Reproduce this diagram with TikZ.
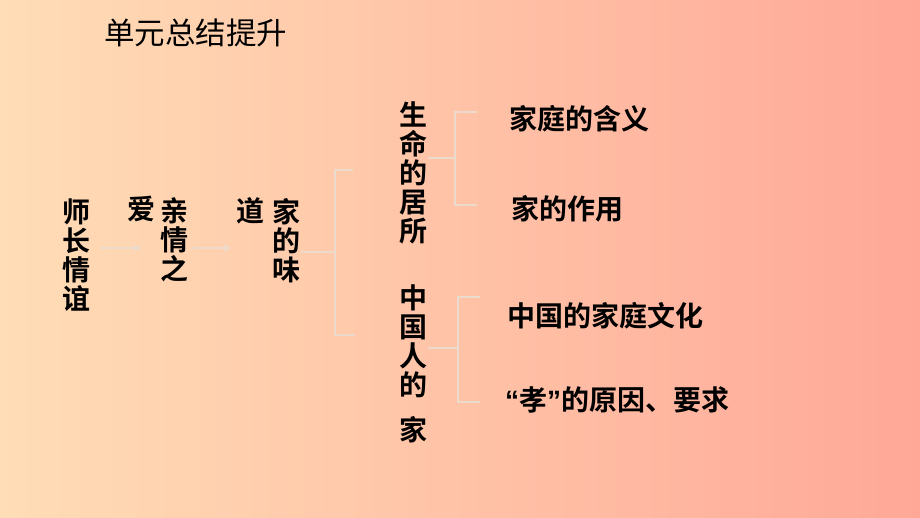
\documentclass[tikz,border=0pt]{standalone}
\usepackage{fontspec}
\newfontfamily\cjk{Noto Sans CJK SC}
\newfontfamily\cjkb{Noto Sans CJK SC Bold}
\newfontfamily\latb{Liberation Sans Bold}
\usetikzlibrary{arrows.meta}
\definecolor{bgL}{RGB}{255,221,182}
\definecolor{bgR}{RGB}{255,168,152}
\definecolor{lineC}{RGB}{236,218,204}
\tikzset{
  vtext/.style={font=\cjkb\fontsize{28}{29}\selectfont, align=center, inner sep=1pt, text=black},
  htext/.style={font=\cjkb\fontsize{28}{29}\selectfont, anchor=west, inner sep=0pt, text=black},
  conn/.style={draw=lineC, line width=1.3pt},
  arr/.style={conn, -{Stealth[length=7pt,width=7pt]}},
}
\begin{document}
\begin{tikzpicture}[x=1pt,y=-1pt]
\shade[left color=bgL, right color=bgR] (0,0) rectangle (920,518);
\useasboundingbox (0,0) rectangle (920,518);
\node[font=\cjk\fontsize{30.5}{33}\selectfont, anchor=west, inner sep=0pt] (title) at (104,33) {单元总结提升};
\node[vtext] (a) at (76,255) {师\\长\\情\\谊};
\node[vtext] (b1) at (141,209) {爱};
\node[vtext] (b) at (174,240) {亲\\情\\之};
\node[vtext] (c1) at (250,211) {道};
\node[vtext] (c) at (286,241) {家\\的\\味};
\node[vtext] (d) at (413,173) {生\\命\\的\\居\\所};
\node[vtext] (e) at (413,364) {中\\国\\人\\的\\[16pt]家};
\node[htext] (d1) at (509,119) {家庭的含义};
\node[htext] (d2) at (511,209) {家的作用};
\node[htext] (e1) at (507,316) {中国的家庭文化};
\node[htext] (e2) at (505,400) {{\latb “}孝{\latb ”}的原因、要求};
\coordinate (s1) at (100,248);
\draw[arr] (s1) -- (s1 -| b1);
\coordinate (s2) at (191,248);
\draw[arr] (s2) -- ([xshift=-4pt]s2 -| c1.west);
% big bracket
\coordinate (B) at (335,252);
\draw[conn] (B -| c.east) -- (B);
\draw[conn] (353,170) -- (335,170) -- (335,335) -- (355,335);
% upper bracket
\coordinate (U) at (455,158);
\draw[conn] (U -| d.east) -- (U);
\draw[conn] (477,112) -- (455,112) -- (455,205) -- (477,205);
% lower bracket
\coordinate (L) at (458,348);
\draw[conn] (L -| e.east) -- (L);
\draw[conn] (480,297) -- (458,297) -- (458,402) -- (480,402);
\end{tikzpicture}
\end{document}
